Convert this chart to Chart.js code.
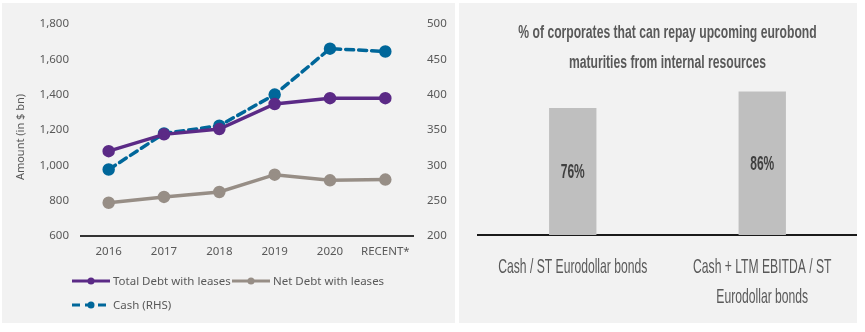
<!DOCTYPE html>
<html>
<head>
<meta charset="utf-8">
<script src="https://cdn.jsdelivr.net/npm/chart.js@4/dist/chart.umd.min.js"></script>
<style>
  html, body { margin: 0; padding: 0; background: #ffffff; }
  body { width: 865px; height: 332px; position: relative; overflow: hidden; }
  .panel { position: absolute; background: #f2f2f2; }
  #leftPanel { left: 2px; top: 3px; width: 453px; height: 320px; }
  #rightPanel { left: 459px; top: 3px; width: 398px; height: 320px; }
  canvas { display: block; }
</style>
</head>
<body>
<div class="panel" id="leftPanel"><canvas id="lineChart" width="453" height="320"></canvas></div>
<div class="panel" id="rightPanel"><canvas id="barChart" width="398" height="320"></canvas></div>
<script>
// ---- Data ----
const years = ['2016', '2017', '2018', '2019', '2020', 'RECENT*'];
const totalDebt = [1080, 1175, 1205, 1347, 1380, 1380];
const netDebt = [788, 821, 849, 947, 915, 919];
const cashRHS = [294, 345, 356, 400, 465, 461];
const leftTicks = [600, 800, 1000, 1200, 1400, 1600, 1800];
const rightTicks = [200, 250, 300, 350, 400, 450, 500];

const barCategories = [['Cash / ST Eurodollar bonds'], ['Cash + LTM EBITDA / ST', 'Eurodollar bonds']];
const barValues = [76, 86];
const barTitle = ['% of corporates that can repay upcoming eurobond', 'maturities from internal resources'];

const FONT = "'Noto Sans', 'DejaVu Sans', sans-serif";
const SANS = "'Liberation Sans', Arial, sans-serif";
const TXT = '#595959';

const PURPLE = '#5b2a86', GREY = '#978e86', BLUE = '#00679a';

// draw horizontally condensed text (to mimic a narrow typeface)
function condensedText(ctx, text, x, y, sx) {
  ctx.save();
  ctx.translate(x, y);
  ctx.scale(sx, 1);
  ctx.fillText(text, 0, 0);
  ctx.restore();
}

// ---- Left chart: custom legend + axis title ----
const leftDecor = {
  id: 'leftDecor',
  afterDraw(chart) {
    const ctx = chart.ctx;
    ctx.save();
    ctx.translate(19, 134);
    ctx.rotate(-Math.PI / 2);
    ctx.font = '11px ' + FONT;
    ctx.fillStyle = TXT;
    ctx.textAlign = 'center';
    ctx.textBaseline = 'middle';
    ctx.fillText('Amount (in $ bn)', 0, 0);
    ctx.restore();

    const items = [
      { ds: 0, x: 70, y: 278 },
      { ds: 1, x: 230, y: 278 },
      { ds: 2, x: 70, y: 302 }
    ];
    items.forEach(it => {
      const d = chart.data.datasets[it.ds];
      ctx.save();
      ctx.strokeStyle = d.borderColor;
      ctx.lineWidth = 3;
      ctx.setLineDash(d.borderDash || []);
      ctx.beginPath();
      ctx.moveTo(it.x, it.y);
      ctx.lineTo(it.x + 38, it.y);
      ctx.stroke();
      ctx.setLineDash([]);
      ctx.fillStyle = d.pointBackgroundColor;
      ctx.beginPath();
      ctx.arc(it.x + 19, it.y, 3.5, 0, Math.PI * 2);
      ctx.fill();
      ctx.font = '11.5px ' + FONT;
      ctx.fillStyle = TXT;
      ctx.textAlign = 'left';
      ctx.textBaseline = 'middle';
      ctx.fillText(d.label, it.x + 41, it.y + 1);
      ctx.restore();
    });
  }
};

new Chart(document.getElementById('lineChart'), {
  type: 'line',
  data: {
    labels: years,
    datasets: [
      { label: 'Total Debt with leases', data: totalDebt, yAxisID: 'y', borderColor: PURPLE, backgroundColor: PURPLE,
        pointBackgroundColor: PURPLE, pointBorderColor: PURPLE, borderWidth: 3.5, pointRadius: 4.5, tension: 0 },
      { label: 'Net Debt with leases', data: netDebt, yAxisID: 'y', borderColor: GREY, backgroundColor: GREY,
        pointBackgroundColor: GREY, pointBorderColor: GREY, borderWidth: 3.5, pointRadius: 4.5, tension: 0 },
      { label: 'Cash (RHS)', data: cashRHS, yAxisID: 'y2', borderColor: BLUE, backgroundColor: BLUE,
        pointBackgroundColor: BLUE, pointBorderColor: BLUE, borderWidth: 3.5, pointRadius: 4.5, tension: 0,
        borderDash: [8, 5], borderCapStyle: 'round' }
    ]
  },
  options: {
    responsive: false,
    animation: false,
    layout: { padding: { left: 0, right: 0, top: 16, bottom: 0 } },
    plugins: { legend: { display: false }, tooltip: { enabled: false } },
    scales: {
      x: {
        offset: true,
        grid: { display: false, drawTicks: false },
        border: { display: true, color: '#333333', width: 2 },
        ticks: { color: TXT, font: { family: FONT, size: 11.5 }, padding: 9, maxRotation: 0, autoSkip: false },
        afterFit(s) { s.height = 87; }
      },
      y: {
        position: 'left',
        min: leftTicks[0], max: leftTicks[leftTicks.length - 1],
        grid: { display: false, drawTicks: false },
        border: { display: false },
        afterBuildTicks(s) { s.ticks = leftTicks.map(v => ({ value: v })); },
        ticks: { color: TXT, font: { family: FONT, size: 11.5 }, padding: 12,
          callback: v => v.toLocaleString('en-US') },
        afterFit(s) { s.width = 79; }
      },
      y2: {
        position: 'right',
        min: rightTicks[0], max: rightTicks[rightTicks.length - 1],
        grid: { display: false, drawTicks: false },
        border: { display: false },
        afterBuildTicks(s) { s.ticks = rightTicks.map(v => ({ value: v })); },
        ticks: { color: TXT, font: { family: FONT, size: 11.5 }, padding: 14 },
        afterFit(s) { s.width = 42; }
      }
    }
  },
  plugins: [leftDecor]
});

// ---- Right chart ----
const rightDecor = {
  id: 'rightDecor',
  afterDraw(chart) {
    const ctx = chart.ctx;
    const area = chart.chartArea;
    const cx = (area.left + area.right) / 2;
    ctx.save();
    ctx.textAlign = 'center';
    ctx.textBaseline = 'middle';

    // title (bold, narrow)
    ctx.font = 'bold 17.5px ' + SANS;
    ctx.fillStyle = TXT;
    barTitle.forEach((t, i) => condensedText(ctx, t, cx, 30 + i * 30, 0.694));

    // value labels in bar centres
    const meta = chart.getDatasetMeta(0);
    ctx.font = 'bold 20px ' + SANS;
    ctx.fillStyle = '#404040';
    meta.data.forEach((bar, i) => {
      const p = bar.getProps(['x', 'y', 'base'], true);
      condensedText(ctx, barValues[i] + '%', p.x, (p.y + p.base) / 2 + 1, 0.6);
    });

    // category labels
    ctx.font = '21px ' + SANS;
    ctx.fillStyle = TXT;
    const xs = chart.scales.x;
    barCategories.forEach((lines, i) => {
      const x = xs.getPixelForValue(i);
      lines.forEach((t, j) => condensedText(ctx, t, x, area.bottom + 32 + j * 30, 0.578));
    });
    ctx.restore();
  }
};

new Chart(document.getElementById('barChart'), {
  type: 'bar',
  data: {
    labels: barCategories,
    datasets: [{ data: barValues, backgroundColor: '#bfbfbf', borderWidth: 0,
      barPercentage: 0.25, categoryPercentage: 1 }]
  },
  options: {
    responsive: false,
    animation: false,
    layout: { padding: { left: 19, right: 0, top: 65, bottom: 0 } },
    plugins: { legend: { display: false }, tooltip: { enabled: false } },
    scales: {
      x: {
        grid: { display: false, drawTicks: false },
        border: { display: true, color: '#1a1a1a', width: 2 },
        ticks: { display: false },
        afterFit(s) { s.height = 88; }
      },
      y: {
        display: false,
        min: 0, max: 100
      }
    }
  },
  plugins: [rightDecor]
});
</script>
</body>
</html>
